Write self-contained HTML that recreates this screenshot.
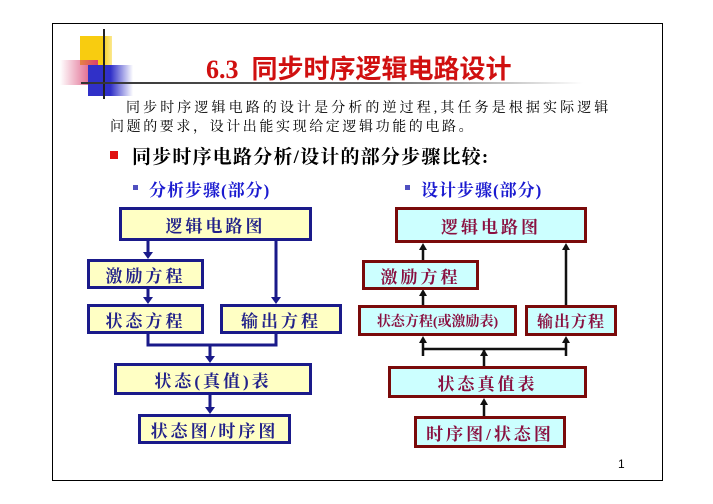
<!DOCTYPE html>
<html><head><meta charset="utf-8"><style>
body{margin:0;width:713px;height:504px;background:#fff;position:relative;overflow:hidden;font-family:"Liberation Serif","Noto Serif CJK SC",serif}
.a{position:absolute}
.b{position:absolute;box-sizing:border-box;border:3px solid #1a1a8a;background:#ffffc4;color:#22228a;font-size:17px;display:flex;align-items:center;justify-content:center;letter-spacing:3px;font-family:"Liberation Serif","Noto Serif CJK SC",serif;font-weight:bold}
.r{border-color:#7a0a0a;background:#ccffff;color:#8a1040}
</style></head><body>
<div class="a" style="left:52px;top:23px;width:609px;height:456px;border:1px solid #000"></div>
<div class="a" style="left:80px;top:36px;width:32px;height:29px;background:linear-gradient(90deg,#f8cc10 70%,#fbe890)"></div>
<div class="a" style="left:60px;top:60px;width:38px;height:25px;background:linear-gradient(90deg,rgba(255,255,255,0),#d84070)"></div>
<div class="a" style="left:88px;top:65px;width:45px;height:31px;background:linear-gradient(90deg,#3030c8 50%,rgba(80,80,220,0))"></div>
<div class="a" style="left:103px;top:29px;width:2px;height:70px;background:#222"></div>
<div class="a" style="left:81px;top:82px;width:502px;height:2px;background:linear-gradient(90deg,#333,#666 60%,#fff)"></div>
<div class="a" style="left:206px;top:49px;font-size:26px;font-weight:bold;color:#d01010;white-space:nowrap;font-family:'Liberation Serif','Noto Sans CJK SC',serif">6.3&nbsp; 同步时序逻辑电路设计</div>
<div class="a" style="left:126px;top:97px;font-size:14px;letter-spacing:3.1px;white-space:nowrap">同步时序逻辑电路的设计是分析的逆过程,其任务是根据实际逻辑</div>
<div class="a" style="left:110px;top:116px;font-size:14px;letter-spacing:2.6px;white-space:nowrap">问题的要求，设计出能实现给定逻辑功能的电路。</div>
<div class="a" style="left:110px;top:151px;width:8px;height:8px;background:#e01010"></div>
<div class="a" style="left:132px;top:142px;font-size:19px;font-weight:bold;white-space:nowrap;letter-spacing:1.2px">同步时序电路分析/设计的部分步骤比较:</div>
<div class="a" style="left:133px;top:185px;width:5px;height:5px;background:#5050c0"></div>
<div class="a" style="left:149px;top:176px;font-size:17px;font-weight:bold;color:#1a1ad0;white-space:nowrap;letter-spacing:1px">分析步骤(部分)</div>
<div class="a" style="left:405px;top:185px;width:5px;height:5px;background:#5050c0"></div>
<div class="a" style="left:421px;top:176px;font-size:17px;font-weight:bold;color:#1a1ad0;white-space:nowrap;letter-spacing:1px">设计步骤(部分)</div>

<svg class="a" style="left:0;top:0" width="713" height="504">
<g stroke="#1a1a8a" stroke-width="3" fill="none">
<path d="M148 240V253M276 240V298M148 288V298M148 333V345H276V333M210 345V357M210 394V408"/>
</g>
<g fill="#1a1a8a">
<path d="M143 252h10l-5 7z"/><path d="M271 297h10l-5 7z"/><path d="M143 297h10l-5 7z"/><path d="M205 356h10l-5 7z"/><path d="M205 407h10l-5 7z"/>
</g>
<g stroke="#111" stroke-width="2.5" fill="none">
<path d="M423 260V249M566 305V249M423 305V295M484 366V349M423 356V349H566V356M423 349V342M566 349V342M484 416V404"/>
</g>
<g fill="#111">
<path d="M419 250h8l-4 -7z"/><path d="M562 250h8l-4 -7z"/><path d="M419 296h8l-4 -7z"/><path d="M419 343h8l-4 -7z"/><path d="M562 343h8l-4 -7z"/><path d="M480 405h8l-4 -7z"/><path d="M480 356h8l-4 -7z"/>
</g>
</svg>

<div class="b" style="left:119px;top:207px;width:193px;height:34px">逻辑电路图</div>
<div class="b" style="left:87px;top:259px;width:117px;height:30px">激励方程</div>
<div class="b" style="left:87px;top:304px;width:117px;height:30px">状态方程</div>
<div class="b" style="left:220px;top:304px;width:122px;height:30px">输出方程</div>
<div class="b" style="left:114px;top:363px;width:198px;height:32px">状态(真值)表</div>
<div class="b" style="left:138px;top:414px;width:153px;height:30px">状态图/时序图</div>

<div class="b r" style="left:395px;top:207px;width:192px;height:36px">逻辑电路图</div>
<div class="b r" style="left:362px;top:260px;width:117px;height:30px">激励方程</div>
<div class="b r" style="left:358px;top:305px;width:159px;height:31px;font-size:14px;letter-spacing:0">状态方程(或激励表)</div>
<div class="b r" style="left:525px;top:305px;width:92px;height:31px;font-size:16px;letter-spacing:1px">输出方程</div>
<div class="b r" style="left:388px;top:366px;width:199px;height:32px">状态真值表</div>
<div class="b r" style="left:414px;top:416px;width:152px;height:32px">时序图/状态图</div>

<div class="a" style="left:618px;top:457px;font-size:12px;font-family:'Liberation Sans',sans-serif">1</div>
</body></html>
